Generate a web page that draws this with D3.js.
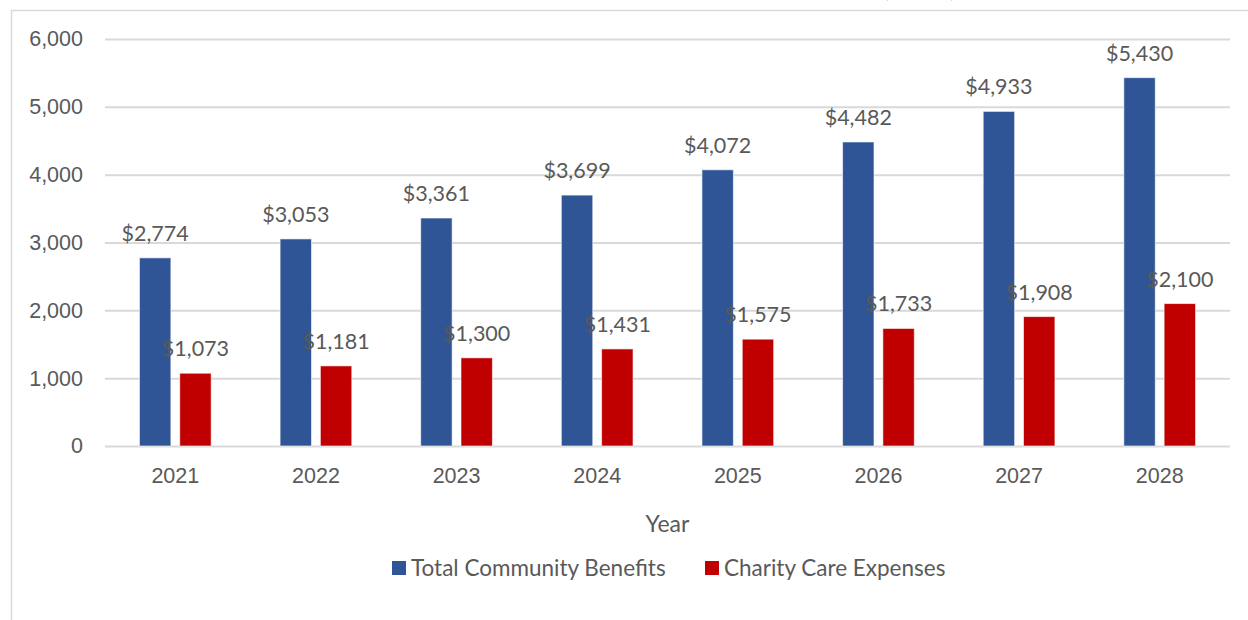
<!DOCTYPE html>
<html>
<head>
<meta charset="utf-8">
<script src="https://cdn.jsdelivr.net/npm/d3@7"></script>
<style>
  body { margin: 0; background: #fff; }
  svg { display: block; font-family: Lato, Carlito, Calibri, sans-serif; }
  .tick text, .label, .axis-title, .legend-label { fill: #595959; }
</style>
</head>
<body>
<div id="chart"></div>
<script>
const years = ['2021', '2022', '2023', '2024', '2025', '2026', '2027', '2028'];
const communityBenefits = [2774, 3053, 3361, 3699, 4072, 4482, 4933, 5430];
const charityCare = [1073, 1181, 1300, 1431, 1575, 1733, 1908, 2100];
const seriesNames = ['Total Community Benefits', 'Charity Care Expenses'];
const seriesColors = ['#2F5597', '#C00000'];
const yTicks = [0, 1000, 2000, 3000, 4000, 5000, 6000];

const width = 1248, height = 620;
const margin = {top: 39, right: 18, bottom: 174, left: 105};

const svg = d3.select('#chart').append('svg')
    .attr('width', width)
    .attr('height', height);

// frame of the embedded chart object
svg.append('rect')
    .attr('x', 11.5).attr('y', 10.5)
    .attr('width', 1300).attr('height', 700)
    .attr('fill', 'none')
    .attr('stroke', '#d9d9d9')
    .attr('stroke-width', 1.5);

// caption above the chart, mostly cut off by the page edge
svg.append('text')
    .attr('x', -2).attr('y', -5)
    .style('font-family', '"Liberation Serif", serif')
    .style('font-weight', 'bold')
    .style('font-size', '26px')
    .attr('fill', '#000')
    .text('Figure 4: Community Benefits and Charity Care Expenses Forecast, 2021-2028 ($000s)');

const x = d3.scaleBand()
    .domain(years)
    .range([margin.left, width - margin.right]);

const xInner = d3.scaleBand()
    .domain([0, 1])
    .range([x.bandwidth() * 0.245, x.bandwidth() * 0.755])
    .paddingInner(0.22);

const y = d3.scaleLinear()
    .domain([0, 6000])
    .range([height - margin.bottom, margin.top]);

// gridlines + y labels
const yAxis = svg.append('g')
    .attr('transform', `translate(${margin.left},0)`)
    .call(d3.axisLeft(y).tickValues(yTicks).tickFormat(d3.format(',')).tickSize(-(width - margin.left - margin.right)).tickPadding(22));
yAxis.select('.domain').remove();
yAxis.selectAll('.tick line').attr('stroke', '#d9d9d9').attr('stroke-width', 2);
yAxis.selectAll('.tick text').style('font-size', '21.5px');

// x labels
const xAxis = svg.append('g')
    .attr('transform', `translate(0,${y(0)})`)
    .call(d3.axisBottom(x).tickSize(0).tickPadding(22));
xAxis.select('.domain').remove();
xAxis.selectAll('.tick text').style('font-size', '21.5px');

const series = [communityBenefits, charityCare];

const groups = svg.append('g').selectAll('g')
    .data(years)
    .join('g')
    .attr('transform', d => `translate(${x(d)},0)`);

groups.selectAll('rect')
    .data((d, i) => series.map((s, k) => ({k: k, value: s[i]})))
    .join('rect')
    .attr('x', d => xInner(d.k))
    .attr('width', xInner.bandwidth())
    .attr('y', d => y(d.value))
    .attr('height', d => y(0) - y(d.value))
    .attr('fill', d => seriesColors[d.k])
    .attr('stroke', '#fff')
    .attr('stroke-opacity', 0.6)
    .attr('stroke-width', 1);

groups.selectAll('.label')
    .data((d, i) => series.map((s, k) => ({k: k, value: s[i]})))
    .join('text')
    .attr('class', 'label')
    .attr('text-anchor', 'middle')
    .attr('x', d => xInner(d.k) + xInner.bandwidth() / 2)
    .attr('y', d => y(d.value) - 17)
    .style('font-size', '21.5px')
    .text(d => '$' + d3.format(',')(d.value));

// axis title
svg.append('text')
    .attr('class', 'axis-title')
    .attr('x', (margin.left + width - margin.right) / 2)
    .attr('y', 532)
    .attr('text-anchor', 'middle')
    .style('font-size', '23px')
    .text('Year');

// legend
const legendX = [392, 705];
const legend = svg.append('g').selectAll('g')
    .data(seriesNames)
    .join('g')
    .attr('transform', (d, i) => `translate(${legendX[i]},561)`);

legend.append('rect')
    .attr('width', 14).attr('height', 14)
    .attr('fill', (d, i) => seriesColors[i]);

legend.append('text')
    .attr('class', 'legend-label')
    .attr('x', 19)
    .attr('y', 14.5)
    .style('font-size', '22.5px')
    .text(d => d);
</script>
</body>
</html>
